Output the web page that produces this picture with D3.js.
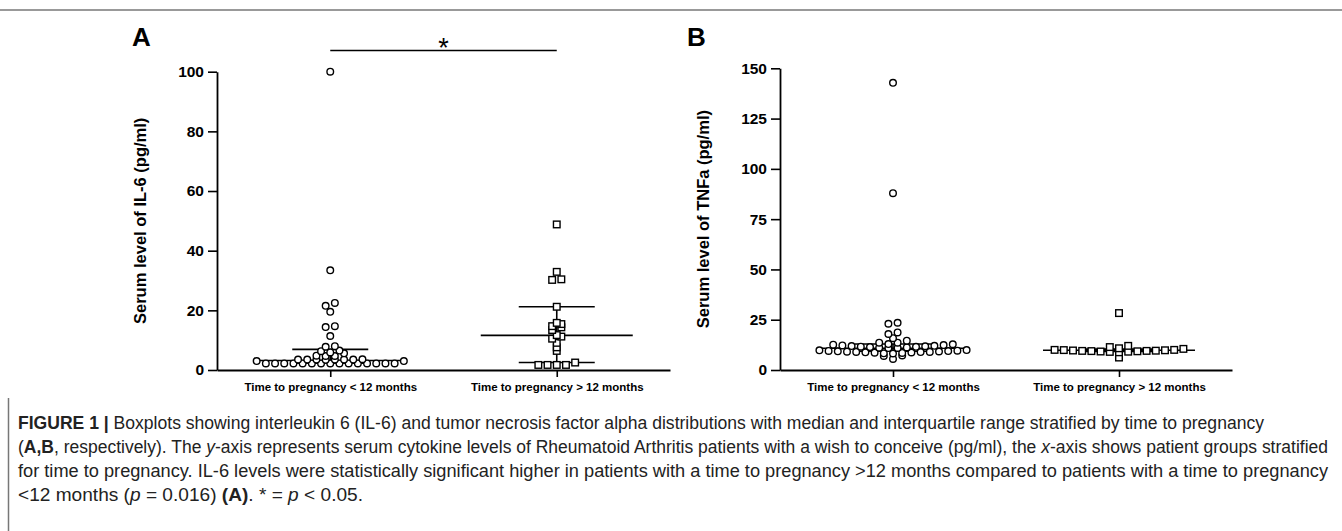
<!DOCTYPE html>
<html>
<head>
<meta charset="utf-8">
<script src="https://cdn.jsdelivr.net/npm/d3@7"></script>
<style>
  body { margin: 0; background: #fff; }
  svg { display: block; font-family: "Liberation Sans", Arial, sans-serif; }
</style>
</head>
<body>
<svg id="fig" width="1342" height="531"></svg>
<script>
// categories
var groups = ["Time to pregnancy < 12 months", "Time to pregnancy > 12 months"];

// IL-6 (pg/ml)
var il6Short = [100, 33.4, 22.5, 21.5, 19.5, 14.7, 14.4, 11.4, 8.0, 7.8, 6.5, 6.3, 5.9, 5.6,
  4.8, 4.7, 4.7, 3.6, 3.5, 3.5, 3.5, 3.5, 3.5, 3.5, 3.4, 3.0, 3.0,
  2.2, 2.2, 2.2, 2.2, 2.2, 2.2, 2.2, 2.2, 2.2, 2.2, 2.2, 2.2, 2.2, 2.2, 2.2];
var il6Long = [48.8, 32.9, 30.4, 30.2, 21.2, 15.8, 15.4, 14.7, 14.3, 13.4, 11.7, 11.2, 10.5,
  9.1, 7.6, 6.4, 2.5, 1.7, 1.7, 1.7, 1.7];
var il6Median = [3.2, 11.6];
var il6Q1 = [2.3, 2.5];
var il6Q3 = [6.9, 21.2];
var il6Ticks = [0, 20, 40, 60, 80, 100];

// TNFa (pg/ml)
var tnfShort = [142.8, 87.9, 23.5, 23.0, 18.7, 17.9, 15.8, 14.6, 13.6, 13.6, 12.9, 12.8, 12.6,
  12.4, 12.2, 12.0, 11.9, 11.8, 11.6, 11.5, 11.4, 11.2, 11.1, 11.0, 10.9,
  9.9, 9.8, 9.6, 9.5, 9.4, 9.3, 9.2, 9.1, 9.0, 9.0, 8.9, 8.8, 8.7, 8.6, 8.5, 8.3, 8.2,
  7.2, 7.0, 5.5];
var tnfLong = [28.3, 12.0, 11.4, 10.8, 10.5, 10.0, 10.0, 9.9, 9.8, 9.7, 9.6, 9.5, 9.5, 9.4,
  9.3, 9.2, 9.1, 9.0, 8.8, 6.2];
var tnfMedian = [10.8, 9.8];
var tnfQ1 = [9.3, 9.2];
var tnfQ3 = [12.9, 10.4];
var tnfTicks = [0, 25, 50, 75, 100, 125, 150];

var svg = d3.select("#fig");

// frame rules
svg.append("line").attr("x1", 0).attr("x2", 1342).attr("y1", 10).attr("y2", 10)
  .attr("stroke", "#777").attr("stroke-width", 1.5);
svg.append("line").attr("x1", 8.5).attr("x2", 8.5).attr("y1", 398).attr("y2", 531)
  .attr("stroke", "#777").attr("stroke-width", 1.5);

// rows of points, lowest value in the middle of each row
function swarm(values, y, cx, d, tol) {
  var sorted = values.slice().sort(d3.ascending);
  var out = [], i = 0;
  while (i < sorted.length) {
    var base = y(sorted[i]), row = [];
    while (i < sorted.length && Math.abs(y(sorted[i]) - base) <= tol) { row.push(sorted[i]); i++; }
    var n = row.length;
    var slots = d3.range(n).map(function (k) { return (k - (n - 1) / 2) * d; })
      .sort(function (a, b) { return Math.abs(a) - Math.abs(b) || a - b; });
    row.forEach(function (v, k) { out.push({ v: v, x: cx + slots[k], y: y(v) }); });
  }
  return out;
}

function panel(o) {
  var g = svg.append("g");

  var y = d3.scaleLinear().domain([0, o.max]).range([370, o.top]);
  var x = d3.scalePoint().domain(groups).range([o.x0, o.x1]).padding(0.5);

  var ya = g.append("g").attr("transform", "translate(" + o.x0 + ",0)")
    .call(d3.axisLeft(y).tickValues(o.ticks).tickSize(9).tickSizeOuter(0).tickPadding(4));
  var xa = g.append("g").attr("transform", "translate(0,370)")
    .call(d3.axisBottom(x).tickSize(7).tickSizeOuter(0).tickPadding(6));

  [ya, xa].forEach(function (a) {
    a.select(".domain").attr("stroke", "#000").attr("stroke-width", 1.8);
    a.selectAll(".tick line").attr("stroke", "#000").attr("stroke-width", 1.6);
    a.selectAll("text").attr("fill", "#000").attr("font-weight", "bold")
      .attr("font-family", "'Liberation Sans', Arial, sans-serif");
  });
  ya.selectAll("text").attr("font-size", 15.5);
  xa.selectAll("text").attr("font-size", 11.5);

  g.append("text")
    .attr("transform", "translate(" + (o.x0 - 77) + "," + ((y(0) + y(o.max)) / 2) + ") rotate(-90)")
    .attr("text-anchor", "middle").attr("dy", "0.35em")
    .attr("font-size", 16.5).attr("font-weight", "bold").text(o.label);

  g.append("text").attr("x", o.letterX).attr("y", 46)
    .attr("font-size", 26).attr("font-weight", "bold").text(o.letter);

  // median and interquartile range
  groups.forEach(function (grp, i) {
    var cx = x(grp);
    g.append("line").attr("x1", cx).attr("x2", cx)
      .attr("y1", y(o.q1[i])).attr("y2", y(o.q3[i]))
      .attr("stroke", "#000").attr("stroke-width", 1.6);
    [[o.q1[i], 38], [o.q3[i], 38], [o.median[i], 76]].forEach(function (m) {
      g.append("line").attr("x1", cx - m[1]).attr("x2", cx + m[1])
        .attr("y1", y(m[0])).attr("y2", y(m[0]))
        .attr("stroke", "#000").attr("stroke-width", 1.6);
    });
  });

  var pts0 = swarm(o.data[0], y, x(groups[0]), 9.2, o.tol);
  var pts1 = swarm(o.data[1], y, x(groups[1]), 9.2, o.tol);

  g.selectAll(".c").data(pts0).enter().append("circle")
    .attr("class", "c")
    .attr("cx", function (d) { return d.x; })
    .attr("cy", function (d) { return d.y; })
    .attr("r", 3.3).attr("fill", "#fff").attr("stroke", "#000").attr("stroke-width", 1.4);

  g.selectAll(".s").data(pts1).enter().append("rect")
    .attr("class", "s")
    .attr("x", function (d) { return d.x - 3.3; })
    .attr("y", function (d) { return d.y - 3.3; })
    .attr("width", 6.6).attr("height", 6.6)
    .attr("fill", "#fff").attr("stroke", "#000").attr("stroke-width", 1.4);

  return { x: x, y: y, g: g };
}

var A = panel({ x0: 217, x1: 670, top: 71.7, max: 100, ticks: il6Ticks, tol: 3,
  data: [il6Short, il6Long], median: il6Median, q1: il6Q1, q3: il6Q3,
  label: "Serum level of IL-6 (pg/ml)", letter: "A", letterX: 132 });

var B = panel({ x0: 780, x1: 1232, top: 68.3, max: 150, ticks: tnfTicks, tol: 4,
  data: [tnfShort, tnfLong], median: tnfMedian, q1: tnfQ1, q3: tnfQ3,
  label: "Serum level of TNFa (pg/ml)", letter: "B", letterX: 687 });

// significance bar, panel A
A.g.append("line").attr("x1", A.x(groups[0])).attr("x2", A.x(groups[1]))
  .attr("y1", 50.5).attr("y2", 50.5).attr("stroke", "#000").attr("stroke-width", 1.6);
A.g.append("text").attr("x", (A.x(groups[0]) + A.x(groups[1])) / 2).attr("y", 57)
  .attr("text-anchor", "middle").attr("font-size", 27).text("*");

// caption
var caption = [
  { len: 1246, parts: [["FIGURE 1 | ", "b"], ["Boxplots showing interleukin 6 (IL-6) and tumor necrosis factor alpha distributions with median and interquartile range stratified by time to pregnancy", ""]] },
  { len: 1310, parts: [["(", ""], ["A,B", "b"], [", respectively). The ", ""], ["y", "i"], ["-axis represents serum cytokine levels of Rheumatoid Arthritis patients with a wish to conceive (pg/ml), the ", ""], ["x", "i"], ["-axis shows patient groups stratified", ""]] },
  { len: 1310, parts: [["for time to pregnancy. IL-6 levels were statistically significant higher in patients with a time to pregnancy >12 months compared to patients with a time to pregnancy", ""]] },
  { len: 345, parts: [["<12 months (", ""], ["p", "i"], [" = 0.016) ", ""], ["(A)", "b"], [". * = ", ""], ["p", "i"], [" < 0.05.", ""]] }
];
caption.forEach(function (line, i) {
  var t = svg.append("text").attr("x", 18).attr("y", 429 + i * 24)
    .attr("font-size", 17.5).attr("fill", "#222")
    .attr("textLength", line.len).attr("lengthAdjust", "spacingAndGlyphs");
  line.parts.forEach(function (p) {
    t.append("tspan")
      .attr("font-weight", p[1] === "b" ? "bold" : null)
      .attr("font-style", p[1] === "i" ? "italic" : null)
      .text(p[0]);
  });
});
</script>
</body>
</html>
